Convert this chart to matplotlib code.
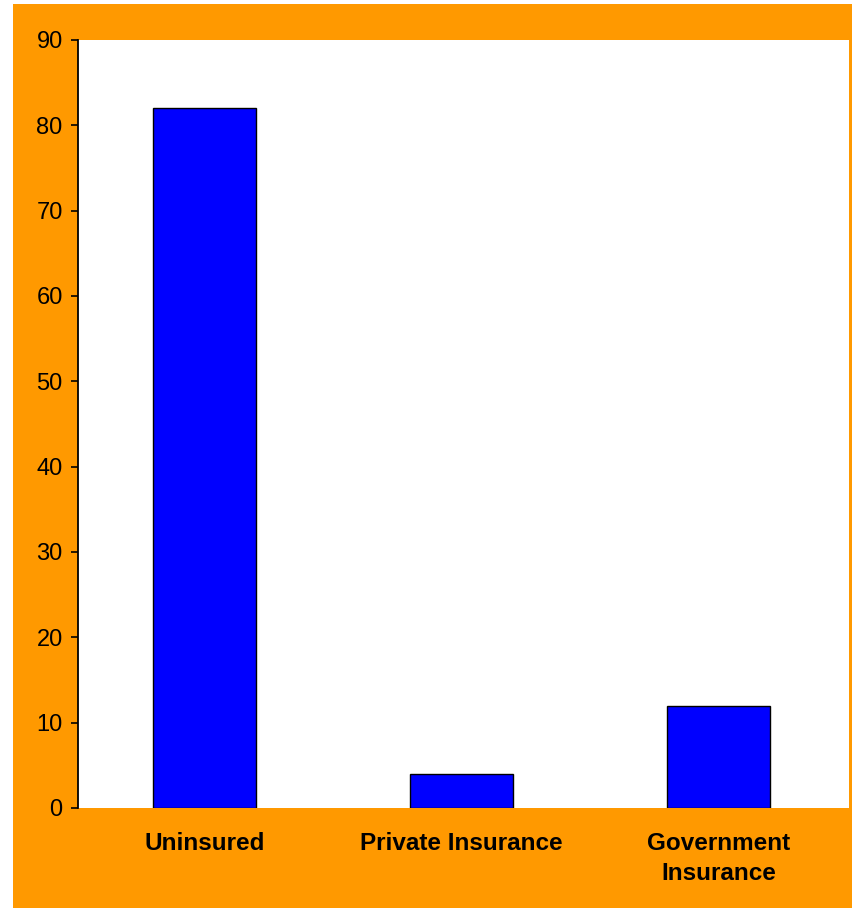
import matplotlib
matplotlib.use("Agg")
import matplotlib.pyplot as plt
from matplotlib.patches import Rectangle

categories = ["Uninsured", "Private Insurance", "Government\nInsurance"]
values = [82, 4, 12]
yticks = [0, 10, 20, 30, 40, 50, 60, 70, 80, 90]

plt.rcParams['font.family'] = ['Liberation Sans', 'DejaVu Sans']

fig = plt.figure(figsize=(8.52, 9.08), dpi=100)
fig.patch.set_facecolor('white')
bg = Rectangle((13/852, 0), 1 - 13/852, (908-4)/908,
               transform=fig.transFigure, facecolor='#FF9900',
               edgecolor='none', zorder=-10)
fig.add_artist(bg)

ax = fig.add_axes([78/852, 100/908, (849-78)/852, (808-40)/908])
ax.set_zorder(1)
ax.set_facecolor('white')
x = list(range(len(categories)))
ax.bar(x, values, width=0.4, color='#0000FF', edgecolor='black', linewidth=1.0, zorder=3)
ax.set_xlim(-0.492, len(categories) - 0.492)
ax.set_ylim(0, 90)
ax.set_yticks(yticks)
ax.set_yticklabels([str(t) for t in yticks], fontsize=17)
ax.set_xticks(x)
ax.set_xticklabels(categories, fontsize=17.5, fontweight='bold', linespacing=1.4)
ax.tick_params(axis='x', length=0, pad=17)
ax.tick_params(axis='y', length=5, width=1.2, direction='out', pad=6)
for s in ['top', 'right', 'bottom']:
    ax.spines[s].set_visible(False)
ax.spines['left'].set_linewidth(1.3)
ax.spines['left'].set_color('black')

fig.savefig('out.png', dpi=100)
